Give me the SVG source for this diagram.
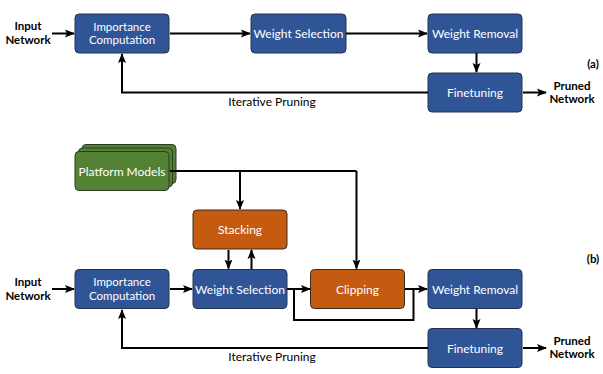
<svg xmlns="http://www.w3.org/2000/svg" width="603" height="374" viewBox="0 0 603 374">
<defs>
<style>
.bl{fill:#2f5597;stroke:#26324a;stroke-width:1}
.or{fill:#c55a11;stroke:#3a2a20;stroke-width:1}
.gr{fill:#548235;stroke:#2c3b22;stroke-width:1}
.t{font-family:Lato,"Liberation Sans",sans-serif;font-size:12px;fill:#ffffff;text-anchor:middle}
.t2{font-family:Lato,"Liberation Sans",sans-serif;font-size:11.5px;fill:#ffffff;text-anchor:middle}
.k{font-family:Lato,"Liberation Sans",sans-serif;font-size:12px;fill:#000000;text-anchor:middle}
.b{font-family:Lato,"Liberation Sans",sans-serif;font-size:11.5px;font-weight:bold;fill:#000000;text-anchor:middle}
.c{fill:none;stroke:#000;stroke-width:2}
.a{marker-end:url(#ah)}
</style>
<marker id="ah" markerWidth="10" markerHeight="10" viewBox="0 0 10 10" refX="9" refY="5" orient="auto" markerUnits="userSpaceOnUse">
<path d="M0,1 L10,5 L0,9 L2,5 Z" fill="#000"/>
</marker>
</defs>

<!-- (a) -->
<g id="a-input"><text class="b" x="28" y="30">Input</text><text class="b" x="28" y="43.5">Network</text></g>
<g id="a-imp"><rect class="bl" x="75" y="14" width="94" height="39" rx="4"/><text class="t2" x="122" y="30.5">Importance</text><text class="t2" x="122" y="44">Computation</text></g>
<g id="a-ws"><rect class="bl" x="251" y="14" width="95" height="39" rx="4"/><text class="t" x="298.5" y="38">Weight Selection</text></g>
<g id="a-wr"><rect class="bl" x="428" y="14" width="94" height="39" rx="4"/><text class="t" x="475" y="38">Weight Removal</text></g>
<g id="a-ft"><rect class="bl" x="428" y="73" width="94" height="39" rx="4"/><text class="t" x="475" y="97">Finetuning</text></g>
<g id="a-out"><text class="b" x="572" y="89.5">Pruned</text><text class="b" x="572" y="103">Network</text></g>
<g id="a-label"><text class="b" x="593" y="68">(a)</text></g>

<!-- (b) -->
<g id="b-pm"><rect class="gr" x="82" y="144.5" width="94" height="39" rx="4"/><rect class="gr" x="78.5" y="148" width="94" height="39" rx="4"/><rect class="gr" x="75" y="151.5" width="94" height="39" rx="4"/><text class="t" x="122" y="175.5">Platform Models</text></g>
<g id="b-stack"><rect class="or" x="193" y="210" width="94" height="39" rx="4"/><text class="t" x="240" y="234">Stacking</text></g>
<g id="b-input"><text class="b" x="28" y="286">Input</text><text class="b" x="28" y="299.5">Network</text></g>
<g id="b-imp"><rect class="bl" x="75" y="269.5" width="94" height="39" rx="4"/><text class="t2" x="122" y="286">Importance</text><text class="t2" x="122" y="299.5">Computation</text></g>
<g id="b-ws"><rect class="bl" x="193" y="269.5" width="94" height="39" rx="4"/><text class="t" x="240" y="293.5">Weight Selection</text></g>
<g id="b-clip"><rect class="or" x="310.5" y="269.5" width="94" height="39" rx="4"/><text class="t" x="357.5" y="293.5">Clipping</text></g>
<g id="b-wr"><rect class="bl" x="428" y="269.5" width="94" height="39" rx="4"/><text class="t" x="475" y="293.5">Weight Removal</text></g>
<g id="b-ft"><rect class="bl" x="428" y="328.5" width="94" height="39" rx="4"/><text class="t" x="475" y="352.5">Finetuning</text></g>
<g id="b-out"><text class="b" x="572" y="344.5">Pruned</text><text class="b" x="572" y="358">Network</text></g>
<g id="b-label"><text class="b" x="593" y="263">(b)</text></g>

<g id="connectors">
<!-- (a) -->
<path class="c a" d="M52,33.5 H74"/>
<path class="c a" d="M170,33.5 H250"/>
<path class="c a" d="M346,33.5 H427"/>
<path class="c a" d="M476.5,53 V72"/>
<path class="c a" d="M523,92.5 H546"/>
<path class="c a" d="M428,92.5 H122 V54"/>
<text class="k" x="272" y="106">Iterative Pruning</text>
<!-- (b) -->
<path class="c" d="M170,171 H356.5"/>
<path class="c a" d="M240,171 V209"/>
<path class="c a" d="M356.5,171 V268.5"/>
<path class="c a" d="M228.5,250 V268.5"/>
<path class="c a" d="M251.5,269 V250"/>
<path class="c a" d="M52,289 H74"/>
<path class="c a" d="M170,289 H192"/>
<path class="c a" d="M287,289 H310"/>
<path class="c" d="M294,289 V320 H413.5 V289"/>
<path class="c a" d="M405,289 H427"/>
<path class="c a" d="M476.5,309 V328"/>
<path class="c a" d="M523,348 H546"/>
<path class="c a" d="M428,348 H122 V310"/>
<text class="k" x="272" y="361">Iterative Pruning</text>
</g>
</svg>
